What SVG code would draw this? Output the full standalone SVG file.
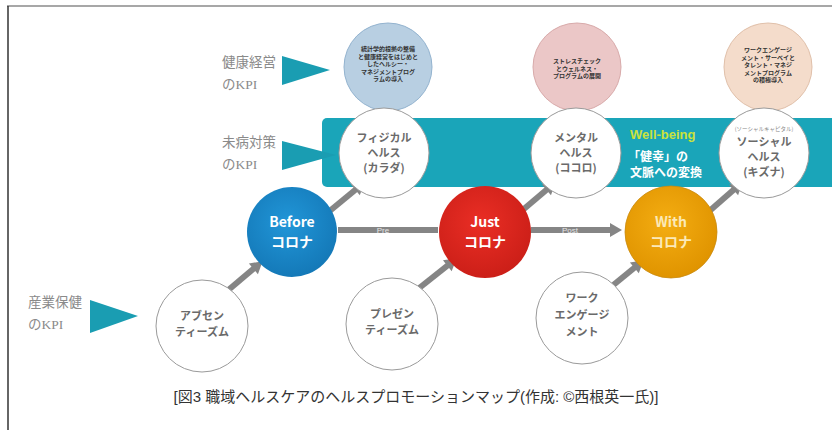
<svg xmlns="http://www.w3.org/2000/svg" width="832" height="430" viewBox="0 0 832 430">
<style>
.lbl{font-family:"Liberation Serif","Noto Sans CJK JP",serif;font-size:13.5px;fill:#8a8a8a}
.wt{font-family:"Noto Sans CJK JP",sans-serif;font-size:11px;font-weight:bold;fill:#6a6a6a;text-anchor:middle}
.tt{font-family:"Noto Sans CJK JP",sans-serif;font-size:6px;font-weight:bold;fill:#333;text-anchor:middle}
.bt{font-family:"Noto Sans CJK JP",sans-serif;font-size:14px;font-weight:bold;fill:#fff;text-anchor:middle}
.wc{fill:#fff;stroke:#9a9a9a;stroke-width:1}
.tri{fill:#1a9db2}
.arr{stroke:#858585;stroke-width:6;fill:none}
.al{font-family:"Liberation Sans",sans-serif;font-size:8px;fill:#e6e6e6;text-anchor:middle}
.cap{font-family:"Liberation Sans","Noto Sans CJK JP",sans-serif;font-size:15px;fill:#333;text-anchor:middle}
</style>
<defs>
<marker id="ah" markerUnits="userSpaceOnUse" markerWidth="16" markerHeight="16" refX="8" refY="8" orient="auto">
<path d="M2,1 L14,8 L2,15 z" fill="#858585"/>
</marker>
<radialGradient id="gB" cx="0.45" cy="0.4" r="0.6"><stop offset="0" stop-color="#2196d8"/><stop offset="1" stop-color="#1479b8"/></radialGradient>
<radialGradient id="gJ" cx="0.45" cy="0.4" r="0.6"><stop offset="0" stop-color="#ea2e25"/><stop offset="1" stop-color="#cc1f18"/></radialGradient>
<radialGradient id="gW" cx="0.45" cy="0.4" r="0.6"><stop offset="0" stop-color="#f4ad12"/><stop offset="1" stop-color="#e09400"/></radialGradient>
</defs>

<g id="frame">
<line x1="7" y1="6" x2="832" y2="6" stroke="#8a8a8a" stroke-width="1.5"/>
<line x1="8" y1="6" x2="8" y2="430" stroke="#333" stroke-width="1.5"/>
</g>

<g id="kpi-labels">
<text class="lbl" x="222" y="67">健康経営</text>
<text class="lbl" x="222" y="89">のKPI</text>
<polygon class="tri" points="282,56 282,85 330,70"/>
<text class="lbl" x="222" y="147">未病対策</text>
<text class="lbl" x="222" y="169">のKPI</text>
<text class="lbl" x="28" y="307">産業保健</text>
<text class="lbl" x="28" y="329">のKPI</text>
<polygon class="tri" points="90,300 90,333 138,316"/>
</g>

<g id="top-circles">
<g id="kenko-keiei">
<circle cx="388" cy="67" r="44" fill="#b8cfe2" stroke="#93b3cf"/>
<text class="tt" x="388" y="51">統計学的根拠の整備</text>
<text class="tt" x="388" y="58.5">と健康経営をはじめと</text>
<text class="tt" x="388" y="66">したヘルシー・</text>
<text class="tt" x="388" y="73.5">マネジメントプログ</text>
<text class="tt" x="388" y="81">ラムの導入</text>
</g>
<g id="stress">
<circle cx="577" cy="67" r="44" fill="#ebc7c7" stroke="#d8aaaa"/>
<text class="tt" x="577" y="63">ストレスチェック</text>
<text class="tt" x="577" y="70.5">とウェルネス・</text>
<text class="tt" x="577" y="78">プログラムの展開</text>
</g>
<g id="engagement">
<circle cx="768" cy="67" r="44" fill="#f4dccb" stroke="#e0c0aa"/>
<text class="tt" x="768" y="52">ワークエンゲージ</text>
<text class="tt" x="768" y="59.5">メント・サーベイと</text>
<text class="tt" x="768" y="67">タレント・マネジ</text>
<text class="tt" x="768" y="74.5">メントプログラム</text>
<text class="tt" x="768" y="82">の積極導入</text>
</g>
</g>

<g id="wellbeing-band">
<rect x="322" y="118" width="520" height="69" rx="5" fill="#1aa5b9"/>
<polygon class="tri" points="282,141 282,170 336,155"/>
<text x="630" y="139" font-family="Liberation Sans,sans-serif" font-size="13" font-weight="bold" fill="#c9e23c">Well-being</text>
<text x="628" y="161" font-family="Noto Sans CJK JP,sans-serif" font-size="12" font-weight="bold" fill="#fff">「健幸」の</text>
<text x="630" y="177" font-family="Noto Sans CJK JP,sans-serif" font-size="12" font-weight="bold" fill="#fff">文脈への変換</text>
</g>

<g id="connectors">
<line class="arr" x1="338" y1="230" x2="438" y2="230"/>
<text class="al" x="383" y="233">Pre</text>
<line class="arr" x1="531" y1="230" x2="616" y2="230" marker-end="url(#ah)"/>
<text class="al" x="570" y="233">Post</text>
<line class="arr" x1="226" y1="292" x2="258" y2="265" marker-end="url(#ah)"/>
<line class="arr" x1="326" y1="214" x2="360" y2="186" marker-end="url(#ah)"/>
<line class="arr" x1="418" y1="289" x2="452" y2="262" marker-end="url(#ah)"/>
<line class="arr" x1="518" y1="214" x2="551" y2="186" marker-end="url(#ah)"/>
<line class="arr" x1="606" y1="291" x2="639" y2="264" marker-end="url(#ah)"/>
<line class="arr" x1="706" y1="214" x2="738" y2="186" marker-end="url(#ah)"/>
</g>

<g id="physical">
<circle class="wc" cx="384" cy="153" r="45"/>
<text class="wt" x="384" y="142">フィジカル</text>
<text class="wt" x="384" y="157">ヘルス</text>
<text class="wt" x="384" y="172">(カラダ)</text>
</g>
<g id="mental">
<circle class="wc" cx="576" cy="153" r="45"/>
<text class="wt" x="576" y="142">メンタル</text>
<text class="wt" x="576" y="157">ヘルス</text>
<text class="wt" x="576" y="172">(ココロ)</text>
</g>
<g id="social">
<circle class="wc" cx="764" cy="153" r="45"/>
<text x="764" y="131" font-family="Noto Sans CJK JP,sans-serif" font-size="5.5" fill="#888" text-anchor="middle">(ソーシャルキャピタル)</text>
<text class="wt" x="764" y="146">ソーシャル</text>
<text class="wt" x="764" y="161">ヘルス</text>
<text class="wt" x="764" y="176">(キズナ)</text>
</g>

<g id="before">
<circle cx="292" cy="232" r="45" fill="url(#gB)"/>
<text class="bt" x="292" y="227">Before</text>
<text class="bt" x="292" y="247">コロナ</text>
</g>
<g id="just">
<circle cx="485" cy="232" r="46" fill="url(#gJ)"/>
<text class="bt" x="485" y="227">Just</text>
<text class="bt" x="485" y="247">コロナ</text>
</g>
<g id="with">
<circle cx="671" cy="232" r="46" fill="url(#gW)" stroke="#c98a10" stroke-width="0.8"/>
<text class="bt" x="671" y="227" style="fill:#fbe9b8">With</text>
<text class="bt" x="671" y="247" style="fill:#fbe9b8">コロナ</text>
</g>

<g id="absenteeism">
<circle class="wc" cx="202" cy="326" r="46"/>
<text class="wt" x="202" y="320">アブセン</text>
<text class="wt" x="202" y="336">ティーズム</text>
</g>
<g id="presenteeism">
<circle class="wc" cx="392" cy="324" r="46"/>
<text class="wt" x="392" y="318">プレゼン</text>
<text class="wt" x="392" y="334">ティーズム</text>
</g>
<g id="work-engagement">
<circle class="wc" cx="582" cy="318" r="46"/>
<text class="wt" x="582" y="302">ワーク</text>
<text class="wt" x="582" y="319">エンゲージ</text>
<text class="wt" x="582" y="336">メント</text>
</g>

<text class="cap" x="416" y="402">[図3 職域ヘルスケアのヘルスプロモーションマップ(作成: ©西根英一氏)]</text>
</svg>
